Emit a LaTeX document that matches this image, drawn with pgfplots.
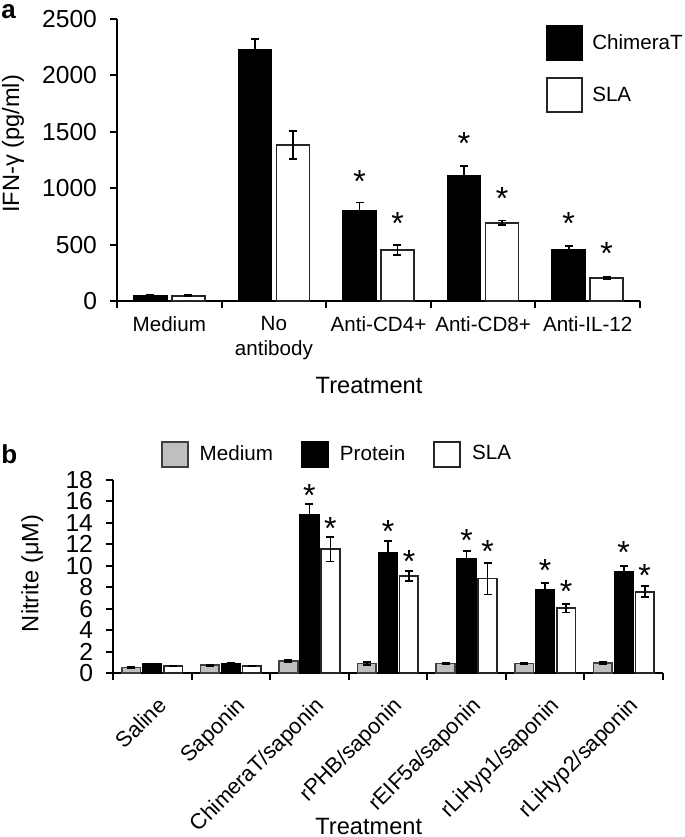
\documentclass[border=0pt]{standalone}
\usepackage{fontspec}
\setmainfont{Liberation Sans}
\usepackage{pgfplots}
\pgfplotsset{compat=1.18}
\usepackage{pgfplotstable}

\pgfplotstableread{
x C Ce S Se
0 45 5 45 5
1 2230 90 1385 125
2 798 76 452 45
3 1111 85 694 20
4 457 33 204 8
}\dataA
\pgfplotstableread{
x Cs Ss
2 1111 738
3 1450 963
4 741 470
}\starsA
\pgfplotstableread{
x M Me P Pe S Se
0 0.53 0.05 0.84 0.05 0.66 0.05
1 0.72 0.05 0.90 0.05 0.66 0.05
2 1.12 0.08 14.73 1.00 11.55 1.15
3 0.90 0.12 11.20 1.13 9.05 0.44
4 0.87 0.07 10.64 0.75 8.80 1.47
5 0.87 0.07 7.77 0.66 6.05 0.41
6 0.94 0.10 9.43 0.56 7.58 0.50
}\dataB
\pgfplotstableread{
x Ps Ss
2 17.07 14.04
3 13.80 11.00
4 12.90 11.90
5 10.14 8.18
6 11.77 9.67
}\starsB

\newcommand{\fs}[1]{\fontsize{#1}{#1}\selectfont}
\newcommand{\starglyph}{\raisebox{-9.2pt}[0pt][0pt]{*}}

\pgfplotsset{
  common/.style={
    scale only axis,
    axis lines*=left,
    axis line style={line width=1pt, black},
    tick align=outside,
    tick style={line width=1pt, black},
    major tick length=3.5pt,
    /pgf/number format/assume math mode=true,
    /pgf/number format/1000 sep={},
    yticklabel style={font=\fs{12.3}, xshift=-3pt},
    label style={font=\fs{11.8}},
    clip=false,
  },
  errs/.style={error bars/.cd, y dir=both, y explicit,
    error bar style={line width=0.9pt, black},
    error mark options={rotate=90, mark size=2pt, line width=0.9pt, black}},
  stars/.style={forget plot, draw=none, mark=none,
    nodes near coords={\starglyph},
    nodes near coords style={inner sep=0pt, font=\fs{16}}},
}

\begin{document}
\begin{tikzpicture}
\useasboundingbox (0,0) rectangle (342.5pt,-418.5pt);
\node[anchor=north west, inner sep=0pt, font=\fs{13}\bfseries] at (0.5pt,-2pt) {a};
\node[anchor=north west, inner sep=0pt, font=\fs{13}\bfseries] at (0.5pt,-222pt) {b};

\begin{axis}[common,
  at={(58.5pt,-150.5pt)}, anchor=south west,
  width=261.5pt, height=141pt,
  ymin=0, ymax=2500, ytick={0,500,...,2500},
  xmin=-0.5, xmax=4.5,
  xtick={-0.5,0.5,...,4.5}, xticklabels={},
  extra x ticks={0,1,2,3,4},
  extra x tick labels={Medium,{No\\antibody},Anti-CD4+,Anti-CD8+,Anti-IL-12},
  extra x tick style={major tick length=0pt,
    tick label style={font=\fontsize{10.3}{12.6}\selectfont, align=center, yshift=-4pt}},
  xlabel={Treatment},
  xlabel style={at={(rel axis cs:0.482,-0.301)}, anchor=center},
  ylabel={IFN-γ (pg/ml)},
  ylabel style={at={(rel axis cs:-0.199,0.557)}, anchor=center},
  legend image code/.code={\draw[#1, line width=1pt] (0pt,-8.5pt) rectangle (17.5pt,8.5pt);},
  legend style={at={(rel axis cs:0.82,0.979)}, anchor=north west, draw=none, fill=none,
    font=\fs{10.3}, row sep=8pt, inner sep=0pt,
    /tikz/every odd column/.append style={column sep=2.5pt}},
  legend cell align=left,
]
\addplot[ybar, bar width=16.5pt, bar shift=0pt, fill=black, draw=black, line width=0.8pt, errs]
  table[x expr=\thisrow{x}-0.1816, y=C, y error=Ce]{\dataA};
\addplot[ybar, bar width=16.5pt, bar shift=0pt, fill=white, draw=black!85, line width=0.8pt, errs]
  table[x expr=\thisrow{x}+0.1816, y=S, y error=Se]{\dataA};
\legend{ChimeraT,SLA}
\addplot[stars] table[x expr=\thisrow{x}-0.1816, y=Cs]{\starsA};
\addplot[stars] table[x expr=\thisrow{x}+0.1816, y=Ss]{\starsA};
\end{axis}

\begin{axis}[common,
  at={(56.5pt,-336.5pt)}, anchor=south west,
  width=275pt, height=96.5pt,
  ymin=0, ymax=18, ytick={0,2,...,18},
  xmin=-0.5, xmax=6.5,
  xtick={-0.5,0.5,...,6.5}, xticklabels={},
  extra x ticks={0,1,2,3,4,5,6},
  extra x tick labels={Saline,Saponin,ChimeraT/saponin,rPHB/saponin,rEIF5a/saponin,rLiHyp1/saponin,rLiHyp2/saponin},
  extra x tick style={major tick length=0pt,
    tick label style={font=\fs{10.9}, rotate=45, anchor=north east, yshift=-6pt, xshift=-3pt}},
  xlabel={Treatment},
  xlabel style={at={(rel axis cs:0.465,-0.795)}, anchor=center},
  ylabel={Nitrite (μM)},
  ylabel style={at={(rel axis cs:-0.147,0.516)}, anchor=center},
  legend image code/.code={\draw[#1, line width=1pt] (0pt,-6.25pt) rectangle (13pt,6.25pt);},
  legend columns=3,
  legend style={at={(rel axis cs:0.409,1.134)}, anchor=center, draw=none, fill=none,
    font=\fs{10.3}, inner sep=0pt,
    /tikz/every odd column/.append style={column sep=3.5pt},
    /tikz/every even column/.append style={column sep=12pt}},
  legend cell align=left,
]
\addplot[ybar, bar width=9.3pt, bar shift=0pt, fill=black!25, draw=black!75, line width=0.8pt, errs]
  table[x expr=\thisrow{x}-0.2673, y=M, y error=Me]{\dataB};
\addplot[ybar, bar width=9.3pt, bar shift=0pt, fill=black, draw=black, line width=0.8pt, errs]
  table[x=x, y=P, y error=Pe]{\dataB};
\addplot[ybar, bar width=9.3pt, bar shift=0pt, fill=white, draw=black!85, line width=0.8pt, errs]
  table[x expr=\thisrow{x}+0.2673, y=S, y error=Se]{\dataB};
\legend{Medium,Protein,SLA}
\addplot[stars] table[x=x, y=Ps]{\starsB};
\addplot[stars] table[x expr=\thisrow{x}+0.2673, y=Ss]{\starsB};
\end{axis}
\end{tikzpicture}
\end{document}
